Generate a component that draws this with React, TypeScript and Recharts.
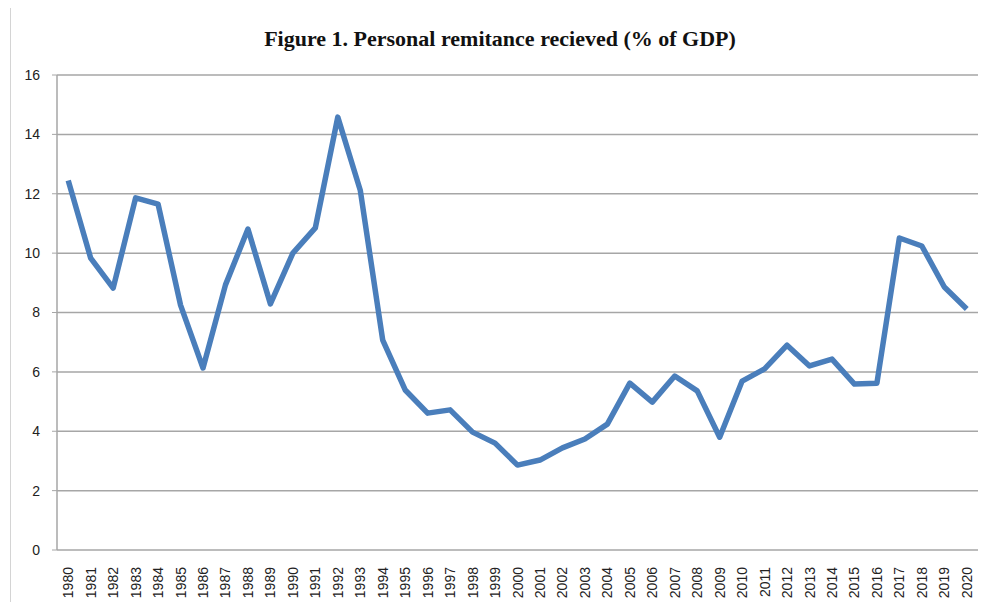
import { LineChart, Line, XAxis, YAxis, CartesianGrid } from 'recharts';

const years = [
  1980, 1981, 1982, 1983, 1984, 1985, 1986, 1987, 1988, 1989,
  1990, 1991, 1992, 1993, 1994, 1995, 1996, 1997, 1998, 1999,
  2000, 2001, 2002, 2003, 2004, 2005, 2006, 2007, 2008, 2009,
  2010, 2011, 2012, 2013, 2014, 2015, 2016, 2017, 2018, 2019, 2020,
];

const remittance = [
  12.45, 9.83, 8.82, 11.86, 11.65, 8.25, 6.13, 8.93, 10.81, 8.29,
  10.0, 10.85, 14.58, 12.12, 7.07, 5.39, 4.61, 4.72, 3.97, 3.6,
  2.86, 3.03, 3.44, 3.74, 4.24, 5.62, 4.98, 5.86, 5.36, 3.8,
  5.69, 6.1, 6.9, 6.2, 6.43, 5.59, 5.62, 10.51, 10.24, 8.86, 8.12,
];

const yTicks = [0, 2, 4, 6, 8, 10, 12, 14, 16];

const data = years.map((y, i) => ({ year: y, value: remittance[i] }));

// tick marks sit between categories, like the Excel original
const boundaryTicks = [...years.map((y) => y - 0.5), years[years.length - 1] + 0.5];

const axisColor = '#a6a6a6';

function YearTick(props: any) {
  const { x, y, payload } = props;
  return (
    <text
      x={x + 5}
      y={y + 9}
      transform={`rotate(-90, ${x + 5}, ${y + 9})`}
      textAnchor="end"
      fill="#222"
      fontSize={14}
      fontFamily="'Liberation Sans', Arial, sans-serif"
    >
      {payload.value}
    </text>
  );
}

export default function App() {
  return (
    <div style={{ position: 'relative', width: 997, height: 610, margin: -8, background: '#fff' }}>
      <div
        style={{
          position: 'absolute',
          left: 10,
          top: 3,
          width: 990,
          height: 604,
          border: '1px solid #d4d4d4',
        }}
      />
      <div
        style={{
          position: 'absolute',
          left: 0,
          width: 1000,
          top: 26,
          textAlign: 'center',
          fontFamily: "'Liberation Serif', 'Times New Roman', serif",
          fontWeight: 'bold',
          fontSize: 22,
          color: '#111',
        }}
      >
        Figure 1. Personal remitance recieved (% of GDP)
      </div>
      <LineChart
        width={997}
        height={610}
        data={data}
        margin={{ top: 75, right: 19, bottom: 0, left: 0 }}
        style={{ position: 'absolute', left: 0, top: 0 }}
      >
        <CartesianGrid vertical={false} stroke={axisColor} strokeWidth={1.5} />
        <XAxis
          xAxisId="marks"
          dataKey="year"
          type="number"
          domain={[1979.5, 2020.5]}
          ticks={boundaryTicks}
          tick={false}
          tickLine={{ stroke: axisColor }}
          axisLine={{ stroke: axisColor, strokeWidth: 1.5 }}
          tickSize={5}
          height={0}
        />
        <XAxis
          xAxisId="labels"
          dataKey="year"
          type="number"
          domain={[1979.5, 2020.5]}
          ticks={years}
          interval={0}
          tick={<YearTick />}
          tickLine={false}
          axisLine={false}
          height={60}
        />
        <YAxis
          domain={[0, 16]}
          ticks={yTicks}
          width={57}
          axisLine={{ stroke: axisColor, strokeWidth: 1.5 }}
          tickLine={{ stroke: axisColor }}
          tickSize={5}
          tickMargin={12}
          tick={{ fill: '#222', fontSize: 14, fontFamily: "'Liberation Sans', Arial, sans-serif" }}
        />
        <Line
          xAxisId="labels"
          type="linear"
          dataKey="value"
          stroke="#4a7ebb"
          strokeWidth={5.5}
          strokeLinejoin="round"
          dot={false}
          isAnimationActive={false}
        />
      </LineChart>
    </div>
  );
}
